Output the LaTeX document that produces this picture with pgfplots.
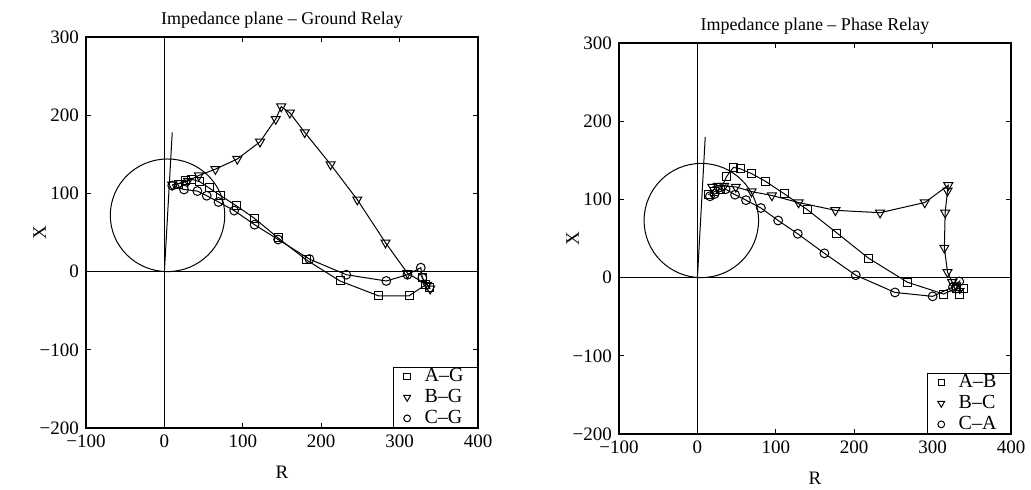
\documentclass[border=0pt]{standalone}
\usepackage{fontspec}
\setmainfont{Liberation Serif}
\usepackage{pgfplots}
\pgfplotsset{compat=1.18}

\pgfplotsset{
  imp/.style={
    scale only axis, width=196pt, height=195.5pt,
    xmin=-100, xmax=400, ymin=-200, ymax=300,
    xtick={-100,0,...,400}, ytick={-200,-100,...,300},
    xticklabels={−100,0,100,200,300,400},
    yticklabels={−200,−100,0,100,200,300},
    tick align=inside, major tick length=2.5pt,
    tick style={black, line width=0.5pt},
    tick label style={font=\fontsize{9.5}{10}\selectfont},
    label style={font=\fontsize{9.5}{10}\selectfont},
    title style={font=\fontsize{9}{10}\selectfont, yshift=-5pt},
    xlabel={R}, ylabel={X},
    xlabel style={yshift=-2pt},
    ylabel style={yshift=-10pt},
    axis line style={line width=0.6pt},
    every axis plot/.append style={line width=0.5pt, black},
    legend style={at={(1,0)}, anchor=south east, draw=black, line width=0.5pt,
      fill=white, font=\fontsize{10}{10}\selectfont, row sep=1.4pt,
      inner xsep=5pt, inner ysep=0pt, nodes={inner ysep=0.5pt},
      /tikz/every odd column/.append style={column sep=5pt}},
    legend cell align=left,
  },
  mksq/.style={mark=square, mark size=2pt},
  mktri/.style={mark=triangle, mark size=2.6pt, mark options={rotate=180}},
  mkci/.style={mark=o, mark size=2.2pt},
}

\begin{document}
\begin{tikzpicture}
% ---------------- ground relay ----------------
\begin{axis}[imp, at={(0pt,0pt)}, title={Impedance plane -- Ground Relay}]
  \addplot[forget plot] coordinates {(0,-200) (0,300)};
  \addplot[forget plot] coordinates {(-100,0) (400,0)};
  \addplot[forget plot] coordinates {(0,0) (10,178)};
  \draw[line width=0.5pt] (axis cs:4,72) ellipse [x radius=73, y radius=72];
  \addplot[forget plot, mksq] coordinates {
    (18,112) (27,117) (35,118) (45,115) (57,107) (72,97) (92,84) (115,68)
    (145,43) (181,15) (224,-12) (273,-31) (312,-31) (333,-17) (329,-8) (338,-20)};
  \addplot[forget plot, mktri] coordinates {
    (10,111) (20,113) (30,116) (44,123) (65,131) (93,144) (122,166) (142,195)
    (149,211) (160,203) (179,178) (212,137) (246,92) (282,37) (310,-2) (335,-17) (339,-22)};
  \addplot[forget plot, mkci] coordinates {
    (10,110) (25,105) (42,103) (54,97) (69,89) (89,78) (115,60) (145,41)
    (185,16) (232,-4) (283,-12) (310,-4) (327,5) (329,-8)};
  \addlegendimage{only marks, mksq, mark size=1.6pt}
  \addlegendentry{A–G}
  \addlegendimage{only marks, mktri, mark size=2pt}
  \addlegendentry{B–G}
  \addlegendimage{only marks, mkci, mark size=1.7pt}
  \addlegendentry{C–G}
\end{axis}
% ---------------- phase relay ----------------
\begin{axis}[imp, at={(266.5pt,-3pt)}, title={Impedance plane -- Phase Relay}]
  \addplot[forget plot] coordinates {(0,-200) (0,300)};
  \addplot[forget plot] coordinates {(-100,0) (400,0)};
  \addplot[forget plot] coordinates {(0,0) (10,180)};
  \draw[line width=0.5pt] (axis cs:5,73) ellipse [x radius=73, y radius=73];
  \addplot[forget plot, mksq] coordinates {
    (14,106) (22,110) (30,113) (37,129) (46,141) (55,139) (69,133) (87,123)
    (111,107) (140,87) (178,57) (218,25) (268,-6) (314,-21) (330,-14) (340,-14) (334,-21)};
  \addplot[forget plot, mktri] coordinates {
    (19,116) (26,117) (34,117) (49,116) (69,110) (95,105) (129,96) (176,86)
    (233,83) (290,96) (320,118) (319,111) (316,83) (315,38) (319,7) (325,-6) (330,-10)};
  \addplot[forget plot, mkci] coordinates {
    (16,104) (22,107) (36,113) (48,106) (62,99) (81,89) (103,73) (128,56)
    (162,31) (202,3) (252,-19) (300,-24) (326,-12) (334,-5) (330,-14)};
  \addlegendimage{only marks, mksq, mark size=1.6pt}
  \addlegendentry{A–B}
  \addlegendimage{only marks, mktri, mark size=2pt}
  \addlegendentry{B–C}
  \addlegendimage{only marks, mkci, mark size=1.7pt}
  \addlegendentry{C–A}
\end{axis}
% page size as in the scanned original
\pgfresetboundingbox
\path (-43pt,-31pt) rectangle (472.5pt,214pt);
\end{tikzpicture}
\end{document}
